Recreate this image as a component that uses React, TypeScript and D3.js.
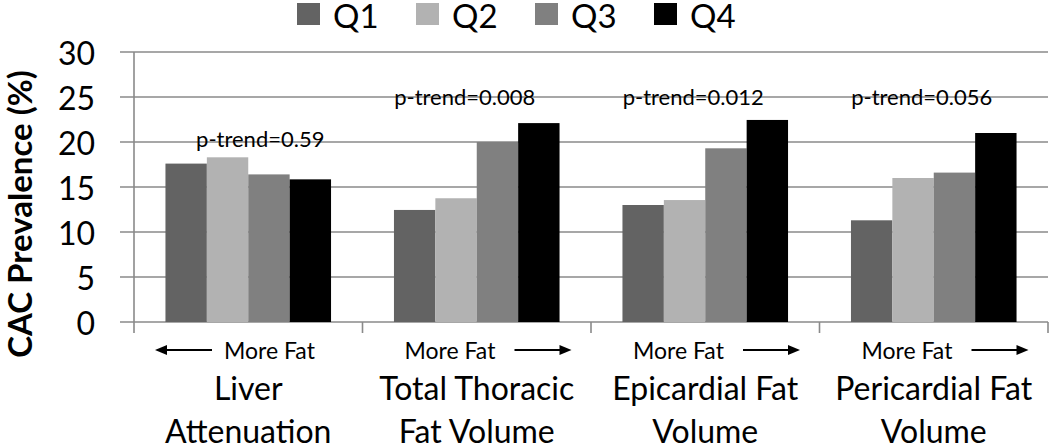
import React from "react";
import * as d3 from "d3";

const categories = ["Liver Attenuation", "Total Thoracic Fat Volume", "Epicardial Fat Volume", "Pericardial Fat Volume"];
const categoryLines = [["Liver", "Attenuation"], ["Total Thoracic", "Fat Volume"], ["Epicardial Fat", "Volume"], ["Pericardial Fat", "Volume"]];
const seriesNames = ["Q1", "Q2", "Q3", "Q4"];
const q1 = [17.6, 12.45, 13.0, 11.3];
const q2 = [18.3, 13.75, 13.55, 16.0];
const q3 = [16.4, 20.0, 19.3, 16.6];
const q4 = [15.85, 22.1, 22.45, 21.0];
const pTrendLabels = ["p-trend=0.59", "p-trend=0.008", "p-trend=0.012", "p-trend=0.056"];
const pTrendY = [20.4, 25.1, 25.1, 25.1];
const arrowLeft = [true, false, false, false];
const yTicks = [0, 5, 10, 15, 20, 25, 30];
const colors = ["#636363", "#b2b2b2", "#808080", "#000000"];

const W = 1050;
const H = 446;
const FONT = "Lato, 'Open Sans', sans-serif";

export default function App() {
  const seriesValues = [q1, q2, q3, q4];
  const x0 = d3.scaleBand<string>().domain(categories).range([134, 1048]).padding(0);
  const x1 = d3
    .scaleBand<string>()
    .domain(seriesNames)
    .range([0, x0.bandwidth()])
    .paddingInner(0)
    .paddingOuter(0.76);
  const y = d3.scaleLinear().domain([0, 30]).range([322, 52]);
  const gridColor = "#8a8a8a";

  return (
    <div style={{ position: "absolute", left: 0, top: 0 }}>
      <svg width={W} height={H} style={{ display: "block", background: "#fff" }}>
        {/* gridlines */}
        {yTicks.map((t) => (
          <line key={"g" + t} x1={120} x2={1048} y1={y(t)} y2={y(t)} stroke={gridColor} strokeWidth={1.6} />
        ))}
        {/* y axis line */}
        <line x1={134} x2={134} y1={y(30)} y2={333} stroke={gridColor} strokeWidth={1.6} />
        {/* category tick marks */}
        {categories.map((c) => (
          <line
            key={"t" + c}
            x1={(x0(c) as number) + x0.bandwidth()}
            x2={(x0(c) as number) + x0.bandwidth()}
            y1={y(0)}
            y2={333}
            stroke={gridColor}
            strokeWidth={1.6}
          />
        ))}
        {/* bars */}
        {seriesNames.map((s, si) =>
          categories.map((c, ci) => {
            const v = seriesValues[si][ci];
            return (
              <rect
                key={s + c}
                x={(x0(c) as number) + (x1(s) as number)}
                y={y(v)}
                width={x1.bandwidth()}
                height={y(0) - y(v)}
                fill={colors[si]}
              />
            );
          })
        )}
        {/* y tick labels */}
        {yTicks.map((t) => (
          <text
            key={"yl" + t}
            x={95}
            y={y(t)}
            textAnchor="end"
            dominantBaseline="central"
            fontFamily={FONT}
            fontSize={32}
            fill="#000"
          >
            {t}
          </text>
        ))}
        {/* y axis title */}
        <text
          transform={`translate(19,${214}) rotate(-90)`}
          textAnchor="middle"
          dominantBaseline="central"
          fontFamily={FONT}
          fontWeight="bold"
          fontSize={33}
          fill="#000"
        >
          CAC Prevalence (%)
        </text>
        {/* p-trend labels */}
        {categories.map((c, ci) => {
          const cx = (x0(c) as number) + x0.bandwidth() / 2 + (ci === 0 ? 12 : -12);
          return (
            <text
              key={"p" + c}
              x={cx}
              y={y(pTrendY[ci])}
              textAnchor="middle"
              dominantBaseline="central"
              fontFamily={FONT}
              fontSize={22}
              fill="#000"
            >
              {pTrendLabels[ci]}
            </text>
          );
        })}
        {/* More Fat annotations */}
        {categories.map((c, ci) => {
          const left = x0(c) as number;
          const yy = 350;
          if (arrowLeft[ci]) {
            return (
              <g key={"mf" + c}>
                <line x1={left + 30} x2={left + 78} y1={yy} y2={yy} stroke="#000" strokeWidth={2} />
                <path d={`M${left + 21},${yy} L${left + 33},${yy - 5} L${left + 33},${yy + 5} Z`} fill="#000" />
                <text x={left + 90} y={yy} dominantBaseline="central" fontFamily={FONT} fontSize={23} fill="#000">
                  More Fat
                </text>
              </g>
            );
          }
          return (
            <g key={"mf" + c}>
              <text x={left + 42} y={yy} dominantBaseline="central" fontFamily={FONT} fontSize={23} fill="#000">
                More Fat
              </text>
              <line x1={left + 152} x2={left + 200} y1={yy} y2={yy} stroke="#000" strokeWidth={2} />
              <path d={`M${left + 209},${yy} L${left + 197},${yy - 5} L${left + 197},${yy + 5} Z`} fill="#000" />
            </g>
          );
        })}
        {/* category labels */}
        {categories.map((c, ci) => {
          const cx = (x0(c) as number) + x0.bandwidth() / 2;
          return (
            <g key={"cl" + c}>
              {categoryLines[ci].map((ln, li) => (
                <text
                  key={ln}
                  x={cx}
                  y={387 + li * 43}
                  textAnchor="middle"
                  dominantBaseline="central"
                  fontFamily={FONT}
                  fontSize={32}
                  fill="#000"
                >
                  {ln}
                </text>
              ))}
            </g>
          );
        })}
        {/* legend */}
        {seriesNames.map((s, si) => {
          const lx = 297 + si * 119;
          return (
            <g key={"lg" + s}>
              <rect x={lx} y={3} width={23} height={22} fill={colors[si]} />
              <text x={lx + 36} y={15} dominantBaseline="central" fontFamily={FONT} fontSize={33} fill="#000">
                {s}
              </text>
            </g>
          );
        })}
      </svg>
    </div>
  );
}
